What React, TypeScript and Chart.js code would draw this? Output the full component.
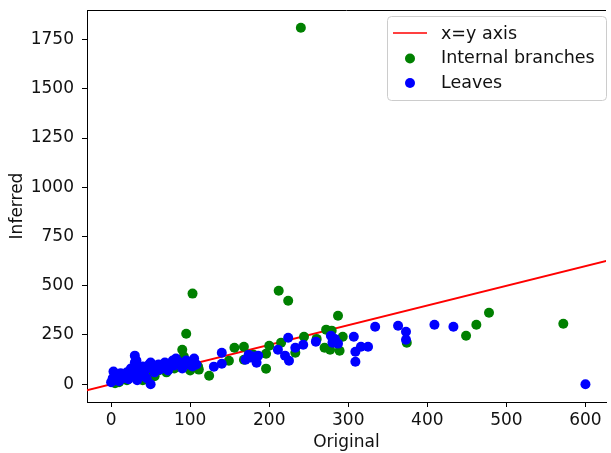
import React, { useEffect, useRef } from "react";
import { Chart, registerables } from "chart.js";

Chart.register(...registerables);

// Internal branches (green): [original, inferred]
const internalX = [240, 103, 95, 212, 224, 287, 272, 279, 293, 270, 277, 289, 244, 215, 233, 196, 196, 168, 156, 168, 149, 124, 111, 90, 92, 95, 100, 85, 80, 60, 55, 45, 40, 20, 10, 374, 449, 462, 478, 572, 30, 70, 110, 5, 260, 200, 180, 64];
const internalY = [1810, 460, 256, 475, 424, 348, 277, 272, 241, 185, 175, 170, 241, 211, 160, 155, 79, 190, 185, 124, 119, 43, 74, 175, 140, 110, 70, 90, 80, 70, 40, 55, 20, 20, 10, 211, 246, 302, 363, 307, 50, 60, 90, 5, 230, 195, 150, 95];

// Leaves (blue)
const leavesX = [0, 2, 3, 5, 8, 10, 12, 15, 18, 20, 22, 25, 28, 30, 30, 32, 33, 35, 38, 40, 42, 45, 48, 50, 50, 52, 55, 58, 60, 62, 65, 68, 70, 72, 75, 78, 80, 82, 85, 88, 90, 95, 98, 100, 103, 105, 108, 130, 140, 140, 170, 174, 176, 180, 184, 186, 211, 220, 224, 225, 233, 243, 259, 278, 280, 283, 287, 307, 309, 309, 316, 325, 334, 363, 373, 373, 409, 433, 600];
const leavesY = [10, 30, 64, 20, 40, 15, 55, 30, 45, 60, 25, 80, 50, 110, 145, 120, 20, 70, 40, 90, 60, 30, 100, 0, 110, 80, 60, 95, 100, 75, 85, 110, 90, 70, 100, 120, 95, 130, 115, 100, 80, 120, 100, 110, 90, 130, 100, 89, 104, 160, 124, 150, 135, 140, 109, 145, 175, 145, 236, 119, 185, 200, 216, 246, 211, 230, 206, 241, 165, 114, 190, 190, 292, 297, 266, 226, 302, 292, 0];

// x=y reference line endpoints
const identityLine = [-50, 700];

const xTicks = [0, 100, 200, 300, 400, 500, 600];
const yTicks = [0, 250, 500, 750, 1000, 1250, 1500, 1750];

const FONT = "'DejaVu Sans', sans-serif";
const FS = 17;

const frameAndLegend = {
  id: "frameAndLegend",
  afterDraw(chart: any) {
    const { ctx, chartArea } = chart;
    ctx.save();
    // top spine
    ctx.strokeStyle = "#000";
    ctx.lineWidth = 1;
    ctx.beginPath();
    ctx.moveTo(chartArea.left, chartArea.top + 0.5);
    ctx.lineTo(chartArea.right, chartArea.top + 0.5);
    ctx.stroke();

    // legend box
    const bx = 387.5, by = 16.5, bw = 219, bh = 84;
    ctx.fillStyle = "rgba(255,255,255,0.8)";
    ctx.strokeStyle = "#cccccc";
    ctx.lineWidth = 1;
    ctx.beginPath();
    const r = 4;
    ctx.moveTo(bx + r, by);
    ctx.lineTo(bx + bw - r, by);
    ctx.arcTo(bx + bw, by, bx + bw, by + r, r);
    ctx.lineTo(bx + bw, by + bh - r);
    ctx.arcTo(bx + bw, by + bh, bx + bw - r, by + bh, r);
    ctx.lineTo(bx + r, by + bh);
    ctx.arcTo(bx, by + bh, bx, by + bh - r, r);
    ctx.lineTo(bx, by + r);
    ctx.arcTo(bx, by, bx + r, by, r);
    ctx.closePath();
    ctx.fill();
    ctx.stroke();

    const labels = chart.data.datasets.map((d: any) => d.label);
    const rows = [33, 57.5, 82];
    ctx.font = "17.5px " + FONT;
    ctx.textBaseline = "middle";
    ctx.textAlign = "left";
    // line entry
    ctx.strokeStyle = "#ff0000";
    ctx.lineWidth = 1.5;
    ctx.beginPath();
    ctx.moveTo(393, rows[0]);
    ctx.lineTo(427, rows[0]);
    ctx.stroke();
    ctx.fillStyle = "#008000";
    ctx.beginPath();
    ctx.arc(410, rows[1] + 1, 5, 0, Math.PI * 2);
    ctx.fill();
    ctx.fillStyle = "#0000ff";
    ctx.beginPath();
    ctx.arc(410, rows[2] + 1, 5, 0, Math.PI * 2);
    ctx.fill();
    ctx.fillStyle = "#111";
    labels.forEach((l: string, i: number) => ctx.fillText(l, 441, rows[i] + 1));
    ctx.restore();
  },
};

export default function App() {
  const ref = useRef<HTMLCanvasElement>(null);
  useEffect(() => {
    document.body.style.margin = "0";
    const toPts = (xs: number[], ys: number[]) => xs.map((x, i) => ({ x, y: ys[i] }));
    const chart = new Chart(ref.current!, {
      type: "scatter",
      data: {
        datasets: [
          {
            type: "line",
            label: "x=y axis",
            data: identityLine.map((v) => ({ x: v, y: v })),
            borderColor: "#ff0000",
            borderWidth: 2,
            pointRadius: 0,
            order: 3,
          } as any,
          {
            label: "Internal branches",
            data: toPts(internalX, internalY),
            backgroundColor: "#008000",
            borderWidth: 0,
            pointRadius: 5,
            order: 2,
          },
          {
            label: "Leaves",
            data: toPts(leavesX, leavesY),
            backgroundColor: "#0000ff",
            borderWidth: 0,
            pointRadius: 5,
            order: 1,
          },
        ],
      },
      options: {
        animation: false,
        responsive: false,
        layout: { padding: { top: 10, right: 0, left: 0, bottom: 0 } },
        plugins: { legend: { display: false }, tooltip: { enabled: false } },
        scales: {
          x: {
            type: "linear",
            min: -30.5,
            max: 626,
            afterFit: (s: any) => { s.height = 51; s.paddingLeft = 0; s.paddingRight = 0; },
            afterBuildTicks: (s: any) => { s.ticks = xTicks.map((v) => ({ value: v })); },
            grid: { drawOnChartArea: false, drawTicks: true, tickLength: 5, color: "#000" },
            border: { display: true, color: "#000" },
            ticks: { color: "#111", font: { family: FONT, size: FS }, padding: 3, maxRotation: 0, callback: (v: any) => String(v) },
            title: { display: true, text: "Original", color: "#111", font: { family: FONT, size: FS }, padding: { top: 1, bottom: 0 } },
          },
          y: {
            type: "linear",
            min: -90.5,
            max: 1900.5,
            afterFit: (s: any) => { s.width = 87; s.paddingTop = 0; s.paddingBottom = 0; },
            afterBuildTicks: (s: any) => { s.ticks = yTicks.map((v) => ({ value: v })); },
            grid: { drawOnChartArea: false, drawTicks: true, tickLength: 5, color: "#000" },
            border: { display: true, color: "#000" },
            ticks: { color: "#111", font: { family: FONT, size: FS }, padding: 8, callback: (v: any) => String(v) },
            title: { display: true, text: "Inferred", color: "#111", font: { family: FONT, size: FS }, padding: { top: 7, bottom: 0 } },
          },
        },
      },
      plugins: [frameAndLegend],
    });
    return () => chart.destroy();
  }, []);
  return (
    <div style={{ width: 611, height: 453 }}>
      <canvas ref={ref} width={611} height={453} style={{ display: "block" }} />
    </div>
  );
}
